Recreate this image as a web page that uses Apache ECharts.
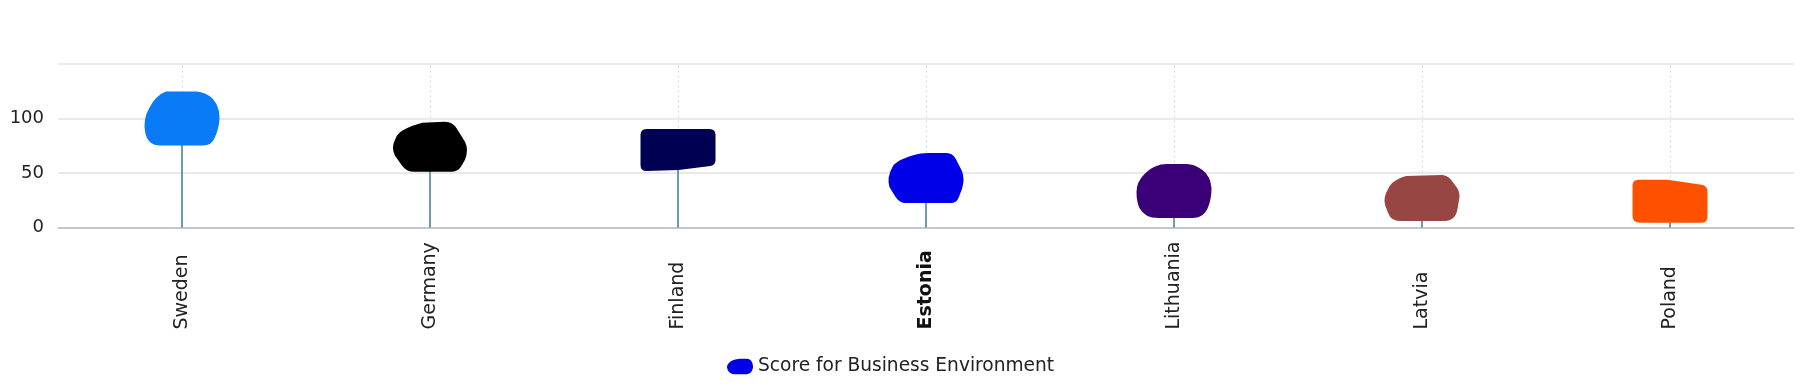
<!DOCTYPE html>
<html>
<head>
<meta charset="utf-8">
<script src="https://cdn.jsdelivr.net/npm/echarts@6/dist/echarts.min.js"></script>
<style>html,body{margin:0;padding:0;background:#fff;}#c{width:1804px;height:387px;}</style>
</head>
<body>
<div id="c"></div>
<script>
// ---- data ----
const categories = ['Sweden', 'Germany', 'Finland', 'Estonia', 'Lithuania', 'Latvia', 'Poland'];
const scores = [100, 74, 71, 45.5, 33.5, 27, 24];
const yTicks = [0, 50, 100, 150];
const seriesName = 'Score for Business Environment';

// ---- styles ----
const colors = ['#0a7bf7', '#000000', '#000052', '#0000e8', '#3b0078', '#974643', '#ff5000'];
const shapes = [
  'path://M22,0 L52,0 Q70,2 74,20 Q76,32 70,46 Q67,54 58,54 L16,54 Q5,54 2,42 Q-1,28 6,16 Q12,4 22,0 Z',
  'path://M10,9 Q18,4 30,1 L52,0 Q60,0 64,7 L72,20 Q76,28 72,38 L68,45 Q65,50 58,50 L22,50 Q14,50 10,44 L3,34 Q-1,26 3,18 Q5,12 10,9 Z',
  'path://M6,0 L69,0 Q75,0 75,6 L75,31 Q75,36 70,37 L38,41 L6,42 Q0,42 0,36 L0,6 Q0,0 6,0 Z',
  'path://M6,12 Q12,6 26,2 Q32,0 40,0 L58,0 Q64,0 67,6 L73,18 Q76,26 73,36 L70,44 Q68,50 62,50 L18,50 Q12,50 8,44 L2,34 Q-1,24 6,12 Z',
  'path://M20,2 Q24,0 30,0 L50,0 Q58,0 66,6 Q74,12 75,24 Q75,34 72,42 Q68,54 56,54 L22,54 Q8,54 3,44 Q0,38 0,28 Q0,18 8,10 Q14,4 20,2 Z',
  'path://M8,8 Q14,3 22,1 L57,0 Q62,0 66,4 L72,12 Q75,16 75,22 L73,34 Q71,46 60,46 L16,46 Q7,46 4,38 L1,30 Q-1,22 4,14 Q5,11 8,8 Z',
  'path://M6,0 L35,0 L69,5 Q75,6 75,12 L75,37 Q75,43 69,43 L8,43 Q0,43 0,36 L0,6 Q0,0 6,0 Z'
];
const sizes = [[75, 54], [74, 50], [75, 42], [75, 50], [75, 54], [75, 46], [75, 43]];
const legendShape = 'path://M6,4 Q12,0 22,0 L30,0 Q38,0 40,8 Q41,12 40,16 Q38,24 30,24 L12,24 Q4,24 1,17 Q-1,12 1,9 Q3,6 6,4 Z';

const FONT = 'DejaVu Sans';
const chart = echarts.init(document.getElementById('c'), null, {renderer: 'canvas'});

chart.setOption({
  animation: false,
  backgroundColor: '#ffffff',
  textStyle: {fontFamily: FONT},
  grid: {left: 58, right: 10, top: 64, bottom: 159.5, containLabel: false},
  legend: {
    data: [{name: seriesName, icon: legendShape, itemStyle: {color: '#0000e8', opacity: 1}}],
    left: 722, bottom: 6,
    itemWidth: 26, itemHeight: 17, itemGap: 10,
    textStyle: {fontFamily: FONT, fontSize: 18.6, color: '#222'}
  },
  xAxis: {
    type: 'category',
    data: categories,
    axisLine: {show: true, lineStyle: {color: '#b4bcc6', width: 1.5}},
    axisTick: {show: false},
    splitLine: {show: false},
    axisLabel: {
      rotate: 90,
      align: 'left',
      margin: 102,
      fontFamily: FONT,
      fontSize: 19,
      color: '#222',
      formatter: v => v === 'Estonia' ? '{b|' + v + '}' : v,
      rich: {b: {fontWeight: 'bold', fontFamily: FONT, fontSize: 19, color: '#111'}}
    }
  },
  yAxis: {
    type: 'value',
    min: yTicks[0], max: yTicks[yTicks.length - 1], interval: 50,
    axisLine: {show: false}, axisTick: {show: false},
    splitLine: {lineStyle: {color: '#e2e2e2', width: 1.5}},
    axisLabel: {
      margin: 14, fontFamily: FONT, fontSize: 18, color: '#222',
      formatter: v => (v === yTicks[yTicks.length - 1] ? '' : String(v))
    }
  },
  series: [
    {
      name: 'grid-v',
      type: 'line',
      data: [],
      silent: true,
      z: 1,
      markLine: {
        silent: true,
        z: 1,
        symbol: ['none', 'none'],
        label: {show: false},
        lineStyle: {type: [2, 3], color: '#d8d8d8', width: 1},
        data: categories.map(c => ({xAxis: c}))
      }
    },
    {
      name: 'stems',
      type: 'bar',
      data: scores,
      barWidth: 1.5,
      silent: true,
      itemStyle: {color: '#3f7c9c', opacity: 1},
      z: 3
    },
    {
      name: seriesName,
      type: 'scatter',
      z: 5,
      data: scores.map((v, i) => ({
        value: v,
        symbol: shapes[i],
        symbolSize: sizes[i],
        itemStyle: {color: colors[i], opacity: 1}
      }))
    }
  ]
});
</script>
</body>
</html>
